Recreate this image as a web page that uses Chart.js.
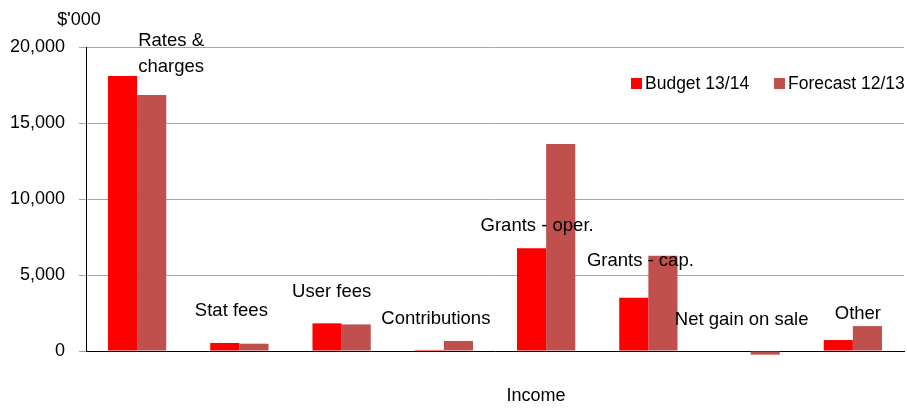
<!DOCTYPE html>
<html>
<head>
<meta charset="utf-8">
<title>Income</title>
<script src="https://cdn.jsdelivr.net/npm/chart.js@4.4.1/dist/chart.umd.min.js"></script>
<style>
  body { margin: 0; background: #fff; }
  #wrap { width: 907px; height: 410px; }
</style>
</head>
<body>
<div id="wrap"><canvas id="chartCanvas" width="907" height="410"></canvas></div>
<script>
// income by category, $'000
var categories = ['Rates & charges', 'Stat fees', 'User fees', 'Contributions',
  'Grants - oper.', 'Grants - cap.', 'Net gain on sale', 'Other'];
var budget = [18100, 530, 1820, 70, 6760, 3510, 0, 720];
var forecast = [16850, 480, 1750, 660, 13620, 6270, -240, 1640];
var yTicks = [0, 5000, 10000, 15000, 20000];

// where each category caption sits: pixel shift from the group centre, and height in $'000
var captionLines = [['Rates &', 'charges'], ['Stat fees'], ['User fees'], ['Contributions'],
  ['Grants - oper.'], ['Grants - cap.'], ['Net gain on sale'], ['Other']];
var captionDx = [34, -8, -10, -8, -9, -8, -9, 5];
var captionAt = [20390, 2630, 3880, 2100, 8220, 5920, 2040, 2430];

var FONT = '"Liberation Sans", Arial, sans-serif';

var captions = {
  id: 'captions',
  afterDatasetsDraw: function(chart) {
    var ctx = chart.ctx;
    var x = chart.scales.x, y = chart.scales.y;
    var area = chart.chartArea;
    ctx.save();
    ctx.fillStyle = '#000';
    ctx.font = '18.5px ' + FONT;
    ctx.textAlign = 'center';
    ctx.textBaseline = 'middle';
    for (var i = 0; i < captionLines.length; i++) {
      var cx = x.getPixelForValue(i) + captionDx[i];
      var cy = y.getPixelForValue(captionAt[i]);
      for (var j = 0; j < captionLines[i].length; j++) {
        ctx.fillText(captionLines[i][j], cx, cy + j * 26);
      }
    }

    // unit over the value axis, axis name under the groups
    ctx.font = '18px ' + FONT;
    ctx.fillText("$'000", area.left - 7, 20);
    ctx.fillText('Income', (area.left + area.right) / 2 + 41, area.bottom + 45);

    // legend, top right
    ctx.font = '17.5px ' + FONT;
    ctx.textAlign = 'left';
    var lx = [631, 774];
    chart.data.datasets.forEach(function(ds, k) {
      ctx.fillStyle = ds.backgroundColor;
      ctx.fillRect(lx[k], 78, 11, 11);
      ctx.fillStyle = '#000';
      ctx.fillText(ds.label, lx[k] + 14, 84);
    });
    ctx.restore();
  }
};

var chartdata = {
  labels: categories,
  datasets: [
    {
      label: 'Budget 13/14',
      backgroundColor: '#FF0000',
      data: budget,
      clip: false
    },
    {
      label: 'Forecast 12/13',
      backgroundColor: '#C0504D',
      data: forecast,
      clip: false
    }
  ]
};

var barGraph = new Chart(document.getElementById('chartCanvas'), {
  type: 'bar',
  data: chartdata,
  plugins: [captions],
  options: {
    responsive: false,
    animation: false,
    layout: { padding: { top: 47, right: 3, left: 0, bottom: 0 } },
    datasets: { bar: { categoryPercentage: 0.57, barPercentage: 1.0 } },
    plugins: {
      legend: { display: false },
      tooltip: { enabled: false }
    },
    scales: {
      x: {
        offset: true,
        grid: { display: false },
        ticks: { display: false },
        border: { color: '#000', width: 1 },
        afterFit: function(scale) { scale.height = 59; }
      },
      y: {
        min: 0,
        max: 20000,
        afterBuildTicks: function(scale) {
          scale.ticks = yTicks.map(function(v) { return { value: v }; });
        },
        grid: { color: '#a6a6a6', tickLength: 7, tickColor: '#a6a6a6' },
        border: { color: '#000', width: 1 },
        ticks: {
          color: '#000',
          padding: 14,
          font: { family: FONT, size: 18 },
          callback: function(v) { return v.toLocaleString('en-US'); }
        },
        afterFit: function(scale) { scale.width = 86; }
      }
    }
  }
});
</script>
</body>
</html>
